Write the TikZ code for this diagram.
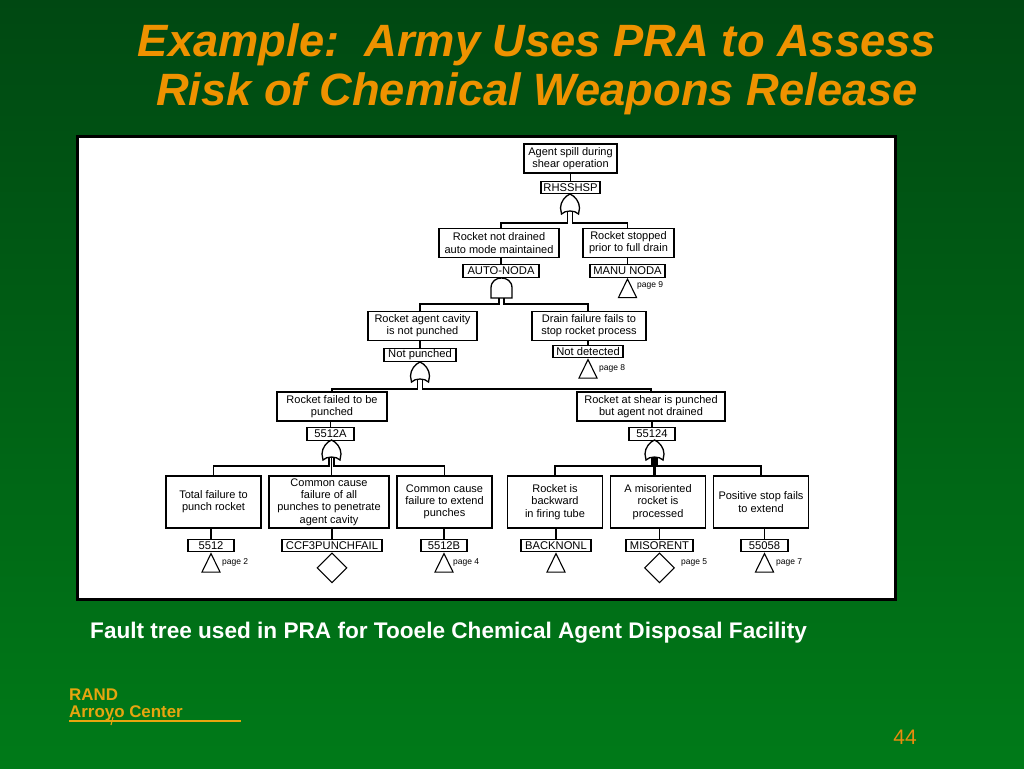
\documentclass[tikz,border=0pt]{standalone}
\usepackage{fontspec}
\setmainfont{Liberation Sans}
\usetikzlibrary{positioning, shapes.geometric}
\definecolor{slidegreen}{HTML}{007A18}
\definecolor{slidedark}{HTML}{004812}
\definecolor{titleorange}{HTML}{EE9200}
\definecolor{randyellow}{HTML}{E6A50F}

\begin{document}
\begin{tikzpicture}[
    x=1pt, y=-1pt,
    eventbox/.style={
        rectangle,
        draw,
        line width=1.2pt,
        fill=white,
        inner sep=0pt,
        align=center,
        font=\fontsize{11}{12.2}\selectfont
    },
    tagbox/.style={
        rectangle,
        draw,
        line width=1.1pt,
        fill=white,
        inner sep=0pt,
        minimum height=12.5pt,
        font=\fontsize{11.2}{12}\selectfont
    },
    wide/.style={eventbox, minimum height=29pt},
    tall/.style={eventbox, minimum width=95pt, minimum height=52pt},
    offpage/.style={
        isosceles triangle,
        isosceles triangle apex angle=52,
        shape border rotate=90,
        draw,
        line width=1.1pt,
        inner sep=0pt,
        minimum height=18.5pt,
        minimum width=17pt
    },
    undeveloped/.style={
        diamond,
        draw,
        line width=1.1pt,
        inner sep=0pt,
        minimum width=30pt,
        minimum height=30pt
    },
    pagenote/.style={font=\fontsize{8.5}{10}\selectfont, inner sep=0pt},
    link/.style={line width=1.3pt},
    orgate/.pic={
        \draw[link, fill=white] (0,0) .. controls (5,2) and (9.5,8) .. (9.5,14) -- (8.5,20)
            .. controls (5,16) and (-5,16) .. (-8.5,20) -- (-9.5,14)
            .. controls (-9.5,8) and (-5,2) .. cycle;
        \coordinate (-top) at (0,0);
        \coordinate (-l) at (-2.5,17);
        \coordinate (-r) at (2.5,17);
        \coordinate (-m) at (0,17);
    },
    andgate/.pic={
        \draw[link, fill=white] (-10.5,20) -- (-10.5,10) .. controls (-10.5,3) and (-5,0) .. (0,0)
            .. controls (5,0) and (10.5,3) .. (10.5,10) -- (10.5,20) -- cycle;
        \coordinate (-top) at (0,0);
        \coordinate (-l) at (-2.5,20);
        \coordinate (-r) at (2.5,20);
    }
]

% slide background
\useasboundingbox (0,0) rectangle (1024,768);
\fill[top color=slidedark, bottom color=slidegreen] (0,0) rectangle (1024,768);
\node[draw=black, line width=2.6pt, fill=white, minimum width=818pt, minimum height=463pt, inner sep=0pt] (panel) at (486.5,368) {};

% heading
\node[text=titleorange, align=center, font=\fontsize{45.3}{49}\selectfont\bfseries\itshape] (title) at (537,69) {Example:\ \ Army Uses PRA to Assess\\Risk of Chemical Weapons Release};
\node[text=white, font=\fontsize{22.6}{26}\selectfont\bfseries, anchor=base west, inner sep=0pt] (caption) at (90,638) {Fault tree used in PRA for Tooele Chemical Agent Disposal Facility};

% top of the tree
\node[wide, minimum width=93pt] (spill) at (570.5,158.5) {Agent spill during\\shear operation};
\node[tagbox, minimum width=59pt, below=7pt of spill] (rhsshsp) {RHSSHSP};
\pic (gateA) at (570,194) {orgate};

\node[wide, minimum width=120pt] (notdrained) at (499,243) {Rocket not drained\\auto mode maintained};
\node[wide, minimum width=91pt] (stopped) at (628.5,243) {Rocket stopped\\prior to full drain};
\node[tagbox, minimum width=76pt] (autonoda) at (501,271) {AUTO-NODA};
\node[tagbox, minimum width=75pt] (manunoda) at (627.5,271) {MANU NODA};
\node[offpage, below=0pt of manunoda] (tri9) {};
\node[pagenote, anchor=west] (page9) at (637,285) {page 9};
\pic (gateB) at (501.5,278) {andgate};

\node[wide, minimum width=109pt] (cavity) at (422.5,326) {Rocket agent cavity\\is not punched};
\node[wide, minimum width=114pt] (drainfail) at (589,326) {Drain failure fails to\\stop rocket process};
\node[tagbox, minimum width=72pt] (notpunched) at (420,355) {Not punched};
\node[tagbox, minimum width=70pt] (notdetected) at (588,351.5) {Not detected};
\node[offpage, below=0pt of notdetected] (tri8) {};
\node[pagenote, anchor=west] (page8) at (599,368) {page 8};
\pic (gateC) at (420,362) {orgate};

\node[wide, minimum width=110pt] (failed) at (332,406.5) {Rocket failed to be\\punched};
\node[wide, minimum width=148pt] (atshear) at (651,406.5) {Rocket at shear is punched\\but agent not drained};
\node[tagbox, minimum width=47pt] (t5512a) at (330.5,434) {5512A};
\node[tagbox, minimum width=46pt] (t55124) at (652,434) {55124};
\pic (gateD) at (331.5,440) {orgate};
\pic (gateE) at (654.5,440) {orgate};

% bottom row
\node[tall] (total) at (213.5,502) {Total failure to\\punch rocket};
\node[tall, minimum width=120pt] (ccfall) at (329,502) {Common cause\\failure of all\\punches to penetrate\\agent cavity};
\node[tall] (ccfext) at (444.5,502) {Common cause\\failure to extend\\punches};
\node[tall] (backward) at (555,502) {Rocket is\\backward\\in firing tube};
\node[tall] (misor) at (658,502) {A misoriented\\rocket is\\processed};
\node[tall] (posstop) at (761,502) {Positive stop fails\\to extend};

\node[tagbox, minimum width=46pt] (t5512) at (211,545.5) {5512};
\node[tagbox, minimum width=100pt] (ccf3) at (332,545.5) {CCF3PUNCHFAIL};
\node[tagbox, minimum width=46pt] (t5512b) at (444,545.5) {5512B};
\node[tagbox, minimum width=70pt] (backnonl) at (556,545.5) {BACKNONL};
\node[tagbox, minimum width=67pt] (misorent) at (659.5,545.5) {MISORENT};
\node[tagbox, minimum width=47pt] (t55058) at (764.5,545.5) {55058};

\node[offpage, below=0pt of t5512] (tri2) {};
\node[undeveloped, below=0pt of ccf3] (dia1) {};
\node[offpage, below=0pt of t5512b] (tri4) {};
\node[offpage, below=0pt of backnonl] (tri0) {};
\node[undeveloped, below=0pt of misorent] (dia2) {};
\node[offpage, below=0pt of t55058] (tri7) {};

\node[pagenote, anchor=west] (page2) at (222,562) {page 2};
\node[pagenote, anchor=west] (page4) at (453,562) {page 4};
\node[pagenote, anchor=west] (page5) at (681,562) {page 5};
\node[pagenote, anchor=west] (page7) at (776,562) {page 7};

% connectors
\draw[link] (spill.south -| rhsshsp) -- (rhsshsp);
\draw[link] (gateA-l) -- ++(0,12) -| (notdrained.north -| autonoda);
\draw[link] (gateA-r) -- ++(0,12) -| (manunoda |- stopped.north);
\draw[link] (notdrained.south -| autonoda) -- (autonoda);
\draw[link] (stopped.south -| manunoda) -- (manunoda);
\draw[link] (gateB-l) -- ++(0,6) -| (notpunched |- cavity.north);
\draw[link] (gateB-r) -- ++(0,6) -| (notdetected |- drainfail.north);
\draw[link] (cavity.south -| notpunched) -- (notpunched);
\draw[link] (drainfail.south -| notdetected) -- (notdetected);
\draw[link] (gateC-l) -- ++(0,10) -| (failed.north);
\draw[link] (gateC-r) -- ++(0,10) -| (atshear.north);
\draw[link] (failed.south -| t5512a) -- (t5512a);
\draw[link] (atshear.south -| t55124) -- (t55124);
\draw[link] (gateD-l) -- ++(0,9) -| (total.north);
\draw[link] (gateD-m) -- (ccfall.north -| gateD-m);
\draw[link] (gateD-r) -- ++(0,9) -| (ccfext.north);
\draw[link] (gateE-l) -- ++(0,9) -| (backward.north);
\draw[link, line width=3pt] (gateE-m) -- (misor.north -| gateE-m);
\draw[link] (gateE-r) -- ++(0,9) -| (posstop.north);
\draw[link] (total.south -| t5512) -- (t5512);
\draw[link] (ccfall.south -| ccf3) -- (ccf3);
\draw[link] (ccfext.south -| t5512b) -- (t5512b);
\draw[link] (backward.south -| backnonl) -- (backnonl);
\draw[link] (misor.south -| misorent) -- (misorent);
\draw[link] (posstop.south -| t55058) -- (t55058);

% footer
\node[text=randyellow, align=left, anchor=north west, inner sep=0pt, font=\fontsize{16.9}{16.5}\selectfont\bfseries] (rand) at (69,689) {RAND\\Arroyo Center};
\coordinate (ruleL) at (69,721);
\coordinate (ruleR) at (241,721);
\draw[randyellow, line width=1.2pt] (ruleL) -- (ruleR);
\draw[randyellow, line width=1.2pt] (113,717) -- (111,725);
\node[text=randyellow!85!red, font=\fontsize{21}{24}\selectfont, inner sep=0pt] (slideno) at (905,737) {44};

\end{tikzpicture}
\end{document}
